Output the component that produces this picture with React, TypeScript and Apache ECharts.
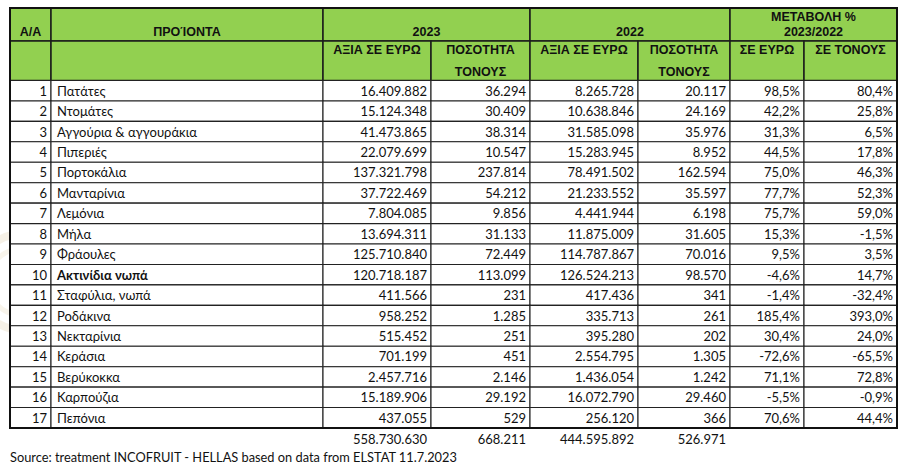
import React, { useEffect, useRef } from "react";
import * as echarts from "echarts";

// ---------- DATA ----------
const products = [
  "Πατάτες", "Ντομάτες", "Αγγούρια & αγγουράκια", "Πιπεριές", "Πορτοκάλια",
  "Μανταρίνια", "Λεμόνια", "Μήλα", "Φράουλες", "Ακτινίδια νωπά",
  "Σταφύλια, νωπά", "Ροδάκινα", "Νεκταρίνια", "Κεράσια", "Βερύκοκκα",
  "Καρπούζια", "Πεπόνια",
];
const value2023 = [
  16409882, 15124348, 41473865, 22079699, 137321798, 37722469, 7804085, 13694311,
  125710840, 120718187, 411566, 958252, 515452, 701199, 2457716, 15189906, 437055,
];
const tons2023 = [
  36294, 30409, 38314, 10547, 237814, 54212, 9856, 31133, 72449, 113099, 231, 1285,
  251, 451, 2146, 29192, 529,
];
const value2022 = [
  8265728, 10638846, 31585098, 15283945, 78491502, 21233552, 4441944, 11875009,
  114787867, 126524213, 417436, 335713, 395280, 2554795, 1436054, 16072790, 256120,
];
const tons2022 = [
  20117, 24169, 35976, 8952, 162594, 35597, 6198, 31605, 70016, 98570, 341, 261,
  202, 1305, 1242, 29460, 366,
];
const changeEuro = [
  98.5, 42.2, 31.3, 44.5, 75.0, 77.7, 75.7, 15.3, 9.5, -4.6, -1.4, 185.4, 30.4,
  -72.6, 71.1, -5.5, 70.6,
];
const changeTons = [
  80.4, 25.8, 6.5, 17.8, 46.3, 52.3, 59.0, -1.5, 3.5, 14.7, -32.4, 393.0, 24.0,
  -65.5, 72.8, -0.9, 44.4,
];
const totals = [558730630, 668211, 444595892, 526971];
const boldRows = [10];
const headerTop = ["A/A", "ΠΡΟΊΟΝΤΑ", "2023", "2022", "ΜΕΤΑΒΟΛΗ %\n2023/2022"];
const headerSub = ["", "", "ΑΞΙΑ ΣΕ ΕΥΡΩ", "ΠΟΣΟΤΗΤΑ\nΤΟΝΟΥΣ", "ΑΞΙΑ ΣΕ ΕΥΡΩ", "ΠΟΣΟΤΗΤΑ\nΤΟΝΟΥΣ", "ΣΕ ΕΥΡΩ", "ΣΕ ΤΟΝΟΥΣ"];
const sourceText = "Source: treatment INCOFRUIT - HELLAS based on data from ELSTAT 11.7.2023";

// ---------- LAYOUT ----------
const colEdges = [0, 41, 313, 421, 520, 628, 720, 794, 887];
const topSpans = [[0, 1], [1, 2], [2, 4], [4, 6], [6, 8]];
const H1 = 33;
const H2 = 72.5;
const TABLE_BOTTOM = 420;
const ROW_H = (TABLE_BOTTOM - H2) / products.length;
const GREEN = "#92D050";
const HEAD_FONT = "bold 12.5px 'Liberation Sans', Arial, sans-serif";
const BODY_FAMILY = "Lato, 'Open Sans', sans-serif";

function fmtInt(n: number) {
  return String(n).replace(/\B(?=(\d{3})+(?!\d))/g, ".");
}
function fmtPct(n: number) {
  return n.toFixed(1).replace(".", ",") + "%";
}

type Cell = {
  x0: number; y0: number; x1: number; y1: number;
  fill: string | null; stroke: string | null; lw: number;
  lines: string[]; lineY: number[]; align: "left" | "right" | "center";
  font: string;
};

function buildCells(): Cell[] {
  const cells: Cell[] = [];
  // header row 1
  topSpans.forEach(([a, b], i) => {
    const lines = headerTop[i].split("\n");
    cells.push({
      x0: colEdges[a], x1: colEdges[b], y0: 0, y1: H1,
      fill: GREEN, stroke: "#1b1b1b", lw: 1.5,
      lines, lineY: lines.length === 1 ? [23.5] : [9, 23.5],
      align: "center", font: HEAD_FONT,
    });
  });
  // header row 2
  headerSub.forEach((t, i) => {
    const lines = t ? t.split("\n") : [];
    cells.push({
      x0: colEdges[i], x1: colEdges[i + 1], y0: H1, y1: H2,
      fill: GREEN, stroke: "#1b1b1b", lw: 1.5,
      lines, lineY: [42, 63.5], align: "center", font: HEAD_FONT,
    });
  });
  // data rows
  products.forEach((p, r) => {
    const y0 = H2 + r * ROW_H;
    const y1 = y0 + ROW_H;
    const cy = (y0 + y1) / 2;
    const bold = boldRows.includes(r + 1);
    const vals = [
      String(r + 1), p, fmtInt(value2023[r]), fmtInt(tons2023[r]), fmtInt(value2022[r]),
      fmtInt(tons2022[r]), fmtPct(changeEuro[r]), fmtPct(changeTons[r]),
    ];
    vals.forEach((v, c) => {
      cells.push({
        x0: colEdges[c], x1: colEdges[c + 1], y0, y1,
        fill: "#ffffff", stroke: "#222222", lw: 1.1,
        lines: [v], lineY: [cy], align: c === 1 ? "left" : "right",
        font: `${bold && c === 1 ? "bold " : ""}13px ${BODY_FAMILY}`,
      });
    });
  });
  // outer border
  cells.push({
    x0: 0, x1: colEdges[colEdges.length - 1], y0: 0, y1: TABLE_BOTTOM,
    fill: null, stroke: "#111111", lw: 2, lines: [], lineY: [], align: "left", font: HEAD_FONT,
  });
  // totals
  totals.forEach((t, i) => {
    cells.push({
      x0: colEdges[i + 2], x1: colEdges[i + 3], y0: TABLE_BOTTOM, y1: TABLE_BOTTOM + 22,
      fill: null, stroke: null, lw: 0, lines: [fmtInt(t)], lineY: [431],
      align: "right", font: `13px ${BODY_FAMILY}`,
    });
  });
  // source
  cells.push({
    x0: 0, x1: 460, y0: TABLE_BOTTOM + 22, y1: 457,
    fill: null, stroke: null, lw: 0, lines: [sourceText], lineY: [448.5],
    align: "left", font: `12.8px ${BODY_FAMILY}`,
  });
  return cells;
}

export default function App() {
  const ref = useRef<HTMLDivElement>(null);
  useEffect(() => {
    if (!ref.current) return;
    const chart = echarts.init(ref.current, null, { renderer: "svg" });
    const cells = buildCells();
    const option: any = {
      animation: false,
      backgroundColor: "#ffffff",
      grid: { left: 10, top: 8, width: 887, height: 457, containLabel: false },
      xAxis: { type: "value", min: 0, max: 887, show: false },
      yAxis: { type: "value", min: 0, max: 457, inverse: true, show: false },
      graphic: [
        {
          type: "ring", shape: { cx: 22, cy: 282, r: 52, r0: 44 },
          style: { fill: "rgba(205,180,120,0.18)" }, z: -10, silent: true,
        },
        {
          type: "ring", shape: { cx: 22, cy: 282, r: 36, r0: 31 },
          style: { fill: "rgba(205,180,120,0.15)" }, z: -10, silent: true,
        },
      ],
      series: [
        {
          type: "custom",
          coordinateSystem: "cartesian2d",
          clip: false,
          encode: { x: [0, 2], y: [1, 3] },
          data: cells.map((c) => [c.x0, c.y0, c.x1, c.y1]),
          renderItem: (params: any, api: any) => {
            const c = cells[params.dataIndex];
            const p0 = api.coord([c.x0, c.y0]);
            const p1 = api.coord([c.x1, c.y1]);
            const children: any[] = [];
            if (c.fill || c.stroke) {
              children.push({
                type: "rect",
                shape: { x: p0[0], y: p0[1], width: p1[0] - p0[0], height: p1[1] - p0[1] },
                style: {
                  fill: c.fill || "none",
                  stroke: c.stroke || "none",
                  lineWidth: c.lw,
                },
              });
            }
            c.lines.forEach((t, i) => {
              const y = api.coord([0, c.lineY[i]])[1];
              let x = (p0[0] + p1[0]) / 2;
              if (c.align === "right") x = p1[0] - 4;
              if (c.align === "left") x = p0[0] + (c.x0 === 0 ? 0 : 6);
              children.push({
                type: "text",
                style: {
                  text: t, x, y,
                  textAlign: c.align, textVerticalAlign: "middle",
                  font: c.font, fill: "#111111",
                },
              });
            });
            return { type: "group", children };
          },
        },
      ],
    };
    chart.setOption(option);
    return () => chart.dispose();
  }, []);
  return (
    <div
      ref={ref}
      style={{ position: "fixed", left: 0, top: 0, width: 910, height: 465 }}
    />
  );
}
